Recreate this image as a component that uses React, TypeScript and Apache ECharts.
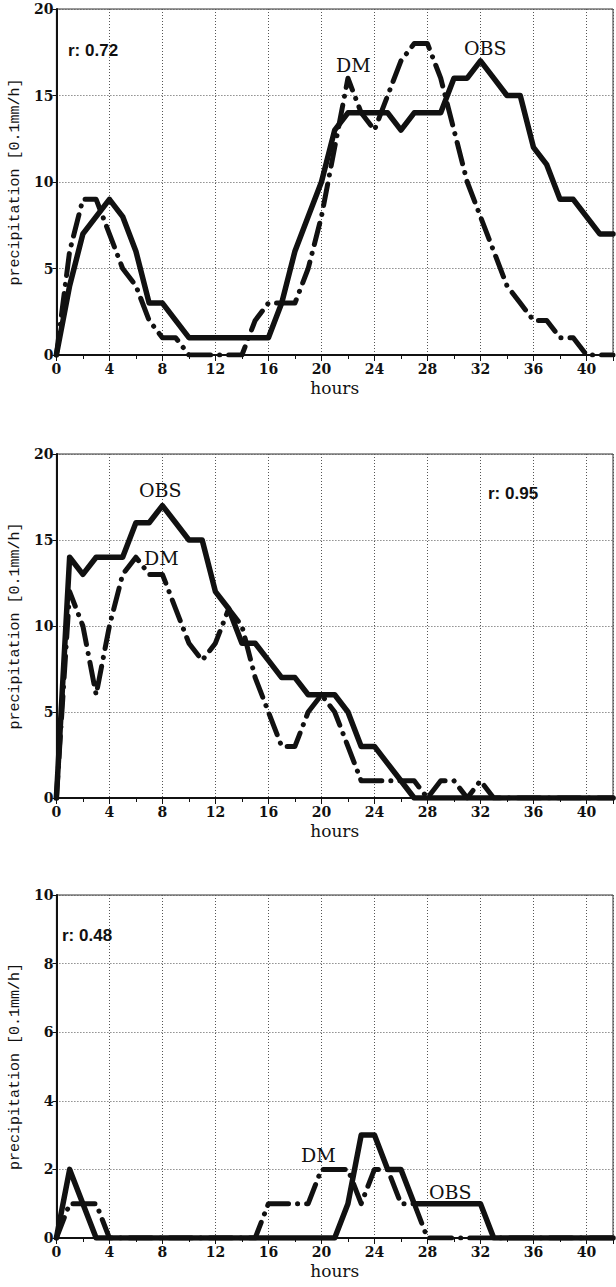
import React, { useEffect, useRef } from "react";
import * as echarts from "echarts";

// Hourly time axis shared by the three cases
const HOURS = [
  0, 1, 2, 3, 4, 5, 6, 7, 8, 9, 10, 11, 12, 13, 14, 15, 16, 17, 18, 19, 20,
  21, 22, 23, 24, 25, 26, 27, 28, 29, 30, 31, 32, 33, 34, 35, 36, 37, 38, 39,
  40, 41, 42,
];

// Case 1 (r = 0.72)
const OBS_1 = [
  0, 4, 7, 8, 9, 8, 6, 3, 3, 2, 1, 1, 1, 1, 1, 1, 1, 3, 6, 8, 10,
  13, 14, 14, 14, 14, 13, 14, 14, 14, 16, 16, 17, 16, 15, 15, 12, 11, 9, 9,
  8, 7, 7,
];
const DM_1 = [
  0, 6, 9, 9, 7, 5, 4, 2, 1, 1, 0, 0, 0, 0, 0, 2, 3, 3, 3, 5, 8,
  12, 16, 14, 13, 15, 17, 18, 18, 16, 13, 10, 8, 6, 4, 3, 2, 2, 1, 1,
  0, 0, 0,
];

// Case 2 (r = 0.95)
const OBS_2 = [
  0, 14, 13, 14, 14, 14, 16, 16, 17, 16, 15, 15, 12, 11, 9, 9, 8, 7, 7, 6, 6,
  6, 5, 3, 3, 2, 1, 0, 0, 0, 0, 0, 0, 0, 0, 0, 0, 0, 0, 0,
  0, 0, 0,
];
const DM_2 = [
  0, 12, 10, 6, 10, 13, 14, 13, 13, 11, 9, 8, 9, 11, 10, 7, 5, 3, 3, 5, 6,
  5, 3, 1, 1, 1, 1, 1, 0, 1, 1, 0, 1, 0, 0, 0, 0, 0, 0, 0,
  0, 0, 0,
];

// Case 3 (r = 0.48)
const OBS_3 = [
  0, 2, 1, 0, 0, 0, 0, 0, 0, 0, 0, 0, 0, 0, 0, 0, 0, 0, 0, 0, 0,
  0, 1, 3, 3, 2, 2, 1, 1, 1, 1, 1, 1, 0, 0, 0, 0, 0, 0, 0,
  0, 0, 0,
];
const DM_3 = [
  0, 1, 1, 1, 0, 0, 0, 0, 0, 0, 0, 0, 0, 0, 0, 0, 1, 1, 1, 1, 2,
  2, 2, 1, 2, 2, 1, 1, 0, 0, 0, 0, 0, 0, 0, 0, 0, 0, 0, 0,
  0, 0, 0,
];

const Y_MAX = [20, 20, 10];
const Y_STEP = [5, 5, 2];
const R_TEXT = ["r: 0.72", "r: 0.95", "r: 0.48"];

const INK = "#111";
const SERIF = "'DejaVu Serif', serif";

const panels = [
  { grid: { left: 54, top: 9, width: 565, height: 346 } },
  { grid: { left: 51, top: 454, width: 564, height: 344 } },
  { grid: { left: 48, top: 895, width: 566, height: 343 } },
];

const obsSets = [OBS_1, OBS_2, OBS_3];
const dmSets = [DM_1, DM_2, DM_3];

function pairs(vals: number[]) {
  return HOURS.map((h, i) => [h, vals[i]]);
}

export default function App() {
  const ref = useRef<HTMLDivElement>(null);

  useEffect(() => {
    if (!ref.current) return;
    const chart = echarts.init(ref.current, undefined, { renderer: "svg" });

    const grid = panels.map((p) => ({
      ...p.grid,
      show: true,
      borderColor: "#333",
      borderWidth: 1,
      backgroundColor: "transparent",
    }));

    const xAxis = panels.map((_, i) => ({
      type: "value",
      gridIndex: i,
      min: 0,
      max: 42,
      interval: 4,
      name: "hours",
      nameLocation: "middle",
      nameGap: 24,
      nameTextStyle: { fontFamily: SERIF, fontSize: 17, color: INK },
      axisLine: { show: true, lineStyle: { color: INK, width: 2 } },
      axisTick: { show: true, inside: false, length: 6, lineStyle: { color: INK, width: 1 } },
      minorTick: { show: true, splitNumber: 2, length: 4, lineStyle: { color: INK, width: 1 } },
      axisLabel: {
        fontFamily: SERIF,
        fontWeight: "bold",
        fontSize: 14,
        color: INK,
        margin: 7,
        formatter: (v: number) => (v % 4 === 0 ? String(v) : ""),
      },
      splitLine: { show: true, lineStyle: { color: "#555", width: 1, type: [1, 2] } },
    }));

    const yAxis = panels.map((_, i) => ({
      type: "value",
      gridIndex: i,
      min: 0,
      max: Y_MAX[i],
      interval: Y_STEP[i],
      name: "precipitation [0.1mm/h]",
      nameLocation: "middle",
      nameGap: 25,
      nameTextStyle: { fontFamily: "'Liberation Mono', monospace", fontSize: 15, color: INK },
      axisLine: { show: true, lineStyle: { color: INK, width: 2 } },
      axisTick: { show: true, inside: false, length: 4, lineStyle: { color: INK, width: 1 } },
      axisLabel: {
        fontFamily: SERIF,
        fontWeight: "bold",
        fontSize: 14,
        color: INK,
        margin: 3,
      },
      splitLine: { show: true, lineStyle: { color: "#555", width: 1, type: [1, 2] } },
    }));

    const series: any[] = [];
    panels.forEach((_, i) => {
      series.push({
        name: "OBS",
        type: "line",
        xAxisIndex: i,
        yAxisIndex: i,
        data: pairs(obsSets[i]),
        showSymbol: false,
        lineStyle: { color: INK, width: 5.5, join: "round", cap: "round" },
        z: 3,
      });
      series.push({
        name: "DM",
        type: "line",
        xAxisIndex: i,
        yAxisIndex: i,
        data: pairs(dmSets[i]),
        showSymbol: false,
        lineStyle: {
          color: INK,
          width: 5,
          type: [22, 9, 0.1, 9],
          cap: "round",
          join: "round",
        },
        z: 4,
      });
    });

    const label = (text: string, x: number, y: number, sans = false) => ({
      type: "text",
      x,
      y,
      z: 10,
      style: {
        text,
        fill: INK,
        font: sans
          ? "bold 17px 'Liberation Sans', Arial, sans-serif"
          : "19px 'DejaVu Serif', serif",
        verticalAlign: "middle",
        align: "left",
      },
    });

    const graphic = [
      label(R_TEXT[0], 68, 50, true),
      label("DM", 336, 65),
      label("OBS", 464, 48),
      label("OBS", 139, 490),
      label("DM", 144, 558),
      label(R_TEXT[1], 488, 493, true),
      label(R_TEXT[2], 62, 935, true),
      label("DM", 301, 1155),
      label("OBS", 429, 1192),
    ];

    chart.setOption({
      animation: false,
      backgroundColor: "#fff",
      grid,
      xAxis,
      yAxis,
      series,
      graphic,
    });

    return () => chart.dispose();
  }, []);

  return (
    <div
      ref={ref}
      style={{ position: "absolute", left: 0, top: 0, width: 616, height: 1287 }}
    />
  );
}
